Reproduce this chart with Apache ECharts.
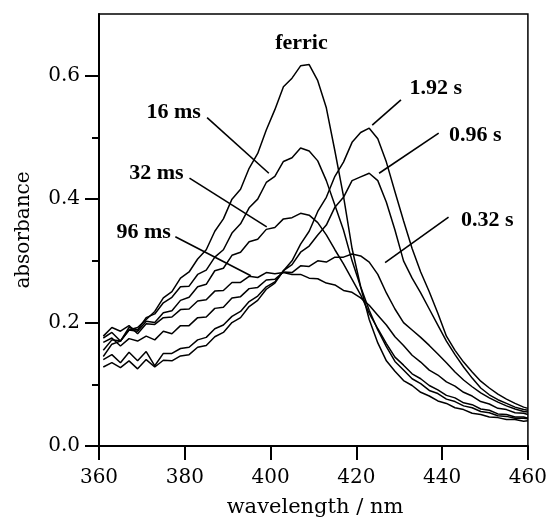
<!DOCTYPE html>
<html>
<head>
<meta charset="utf-8">
<script src="https://cdn.jsdelivr.net/npm/echarts@6/dist/echarts.min.js"></script>
<style>
html,body{margin:0;padding:0;background:#fff;}
#c{width:550px;height:522px;}
</style>
</head>
<body>
<div id="c"></div>
<script>
// wavelength grid (nm)
const wavelengths = [361,363,365,367,369,371,373,375,377,379,381,383,385,387,389,391,393,395,397,399,401,403,405,407,409,411,413,415,417,419,421,423,425,427,429,431,433,435,437,439,441,443,445,447,449,451,453,455,457,459,460];

const ferric = [0.145,0.165,0.170,0.188,0.192,0.205,0.218,0.240,0.250,0.272,0.282,0.303,0.318,0.348,0.368,0.400,0.416,0.450,0.474,0.512,0.545,0.582,0.596,0.616,0.618,0.592,0.548,0.478,0.405,0.320,0.258,0.205,0.167,0.138,0.121,0.106,0.098,0.087,0.081,0.073,0.069,0.062,0.059,0.053,0.051,0.047,0.046,0.043,0.043,0.040,0.041];

const ms16 = [0.155,0.172,0.170,0.192,0.188,0.208,0.214,0.232,0.241,0.258,0.259,0.278,0.285,0.306,0.318,0.345,0.360,0.386,0.400,0.427,0.437,0.461,0.467,0.483,0.478,0.462,0.430,0.390,0.350,0.300,0.258,0.220,0.188,0.161,0.137,0.123,0.109,0.101,0.090,0.085,0.076,0.072,0.065,0.062,0.056,0.054,0.049,0.048,0.045,0.045,0.044];

const ms32 = [0.175,0.184,0.170,0.188,0.186,0.202,0.200,0.216,0.219,0.236,0.241,0.258,0.262,0.284,0.288,0.309,0.314,0.331,0.335,0.351,0.354,0.368,0.370,0.377,0.374,0.362,0.342,0.318,0.295,0.270,0.245,0.215,0.190,0.166,0.144,0.131,0.117,0.109,0.098,0.091,0.082,0.078,0.070,0.067,0.060,0.058,0.052,0.051,0.047,0.047,0.045];

const ms96 = [0.178,0.192,0.186,0.195,0.182,0.198,0.197,0.208,0.209,0.221,0.222,0.235,0.237,0.251,0.252,0.265,0.265,0.275,0.273,0.281,0.279,0.281,0.278,0.278,0.272,0.271,0.264,0.261,0.252,0.249,0.240,0.228,0.212,0.196,0.177,0.163,0.147,0.136,0.123,0.115,0.104,0.097,0.087,0.081,0.072,0.068,0.061,0.059,0.054,0.053,0.051];

const s032 = [0.168,0.175,0.162,0.174,0.170,0.178,0.172,0.186,0.182,0.195,0.195,0.208,0.209,0.223,0.225,0.240,0.242,0.255,0.257,0.269,0.270,0.282,0.281,0.292,0.291,0.300,0.298,0.306,0.306,0.311,0.308,0.298,0.278,0.248,0.222,0.200,0.188,0.176,0.163,0.149,0.135,0.120,0.107,0.096,0.086,0.078,0.071,0.065,0.060,0.056,0.055];

const s096 = [0.140,0.148,0.135,0.152,0.138,0.153,0.130,0.150,0.150,0.158,0.160,0.172,0.176,0.190,0.196,0.210,0.218,0.234,0.243,0.258,0.266,0.284,0.294,0.314,0.324,0.342,0.358,0.387,0.403,0.430,0.436,0.442,0.430,0.395,0.350,0.300,0.272,0.248,0.222,0.196,0.170,0.148,0.128,0.110,0.094,0.083,0.075,0.069,0.063,0.059,0.058];

const s192 = [0.128,0.135,0.127,0.138,0.125,0.140,0.128,0.139,0.138,0.146,0.148,0.160,0.163,0.177,0.184,0.200,0.208,0.226,0.236,0.254,0.264,0.284,0.300,0.327,0.348,0.380,0.403,0.437,0.460,0.492,0.508,0.515,0.498,0.460,0.412,0.365,0.320,0.282,0.250,0.215,0.178,0.155,0.136,0.120,0.105,0.094,0.084,0.076,0.069,0.063,0.061];

const seriesList = [ferric, ms16, ms32, ms96, s032, s096, s192];
const seriesNames = ['ferric','16 ms','32 ms','96 ms','0.32 s','0.96 s','1.92 s'];

const xTicks = [360,380,400,420,440,460];
const yTicks = [0.0,0.2,0.4,0.6];
const yMinorTicks = [0.1,0.3,0.5];

// annotation labels: text, anchor [nm, abs], leader from, leader to
const labelTexts = ['ferric','16 ms','32 ms','96 ms','1.92 s','0.96 s','0.32 s'];
const labelAnchors = [[407.2,0.652],[377.4,0.540],[373.4,0.442],[370.4,0.347],[438.5,0.580],[447.7,0.504],[450.5,0.366]];
const leaderFrom = [null,[385.2,0.532],[381.1,0.434],[377.8,0.339],[430.4,0.561],[439.2,0.507],[441.5,0.371]];
const leaderTo   = [null,[399.6,0.442],[399.1,0.355],[395.4,0.276],[423.7,0.520],[425.3,0.442],[426.7,0.297]];

const chart = echarts.init(document.getElementById('c'), null, {renderer:'canvas'});
const tickFont = {fontFamily:'DejaVu Serif', fontSize:20, color:'#000'};

chart.setOption({
  animation:false,
  backgroundColor:'#fff',
  grid:{left:99, top:14, right:19, bottom:76, show:true, borderColor:'#000', borderWidth:1.5, backgroundColor:'transparent'},
  xAxis:{
    type:'value', min:360, max:460, interval:20,
    axisLine:{lineStyle:{color:'#000', width:2}},
    axisTick:{inside:false, length:14, lineStyle:{color:'#000', width:2}, customValues:xTicks},
    axisLabel:{...tickFont, margin:22, customValues:xTicks},
    splitLine:{show:false}
  },
  yAxis:[{
    type:'value', min:0, max:0.7,
    axisLine:{lineStyle:{color:'#000', width:2}},
    axisTick:{inside:false, length:14, lineStyle:{color:'#000', width:2}, customValues:yTicks},
    axisLabel:{...tickFont, margin:19, customValues:yTicks, formatter:v=>v.toFixed(1)},
    splitLine:{show:false}
  },{
    type:'value', min:0, max:0.7, position:'left',
    axisLine:{show:false},
    axisTick:{inside:false, length:7, lineStyle:{color:'#000', width:2}, customValues:yMinorTicks},
    axisLabel:{show:false},
    splitLine:{show:false}
  }],
  series: seriesList.map((vals,k)=>({
    name:seriesNames[k], type:'line', showSymbol:false, symbol:'none',
    data: wavelengths.map((w,i)=>[w, vals[i]]),
    lineStyle:{color:'#000', width:1.5},
    z:3
  }))
});

const gfx = [];
labelTexts.forEach((t,i)=>{
  const p = chart.convertToPixel({gridIndex:0}, labelAnchors[i]);
  gfx.push({type:'text', x:p[0], y:p[1], style:{text:t, fontFamily:'Liberation Serif', fontWeight:'bold', fontSize:22, fill:'#000', textAlign:'center', textVerticalAlign:'middle'}});
  if (leaderFrom[i]) {
    const a = chart.convertToPixel({gridIndex:0}, leaderFrom[i]);
    const b = chart.convertToPixel({gridIndex:0}, leaderTo[i]);
    gfx.push({type:'line', shape:{x1:a[0], y1:a[1], x2:b[0], y2:b[1]}, style:{stroke:'#000', lineWidth:1.6}});
  }
});
gfx.push({type:'text', x:24, y:230, rotation:Math.PI/2, style:{text:'absorbance', fontFamily:'DejaVu Serif', fontSize:20, fill:'#000', textAlign:'center', textVerticalAlign:'middle'}});
gfx.push({type:'text', x:315, y:508, style:{text:'wavelength / nm', fontFamily:'DejaVu Serif', fontSize:21, fill:'#000', textAlign:'center', textVerticalAlign:'middle'}});
chart.setOption({graphic:gfx});
</script>
</body>
</html>
